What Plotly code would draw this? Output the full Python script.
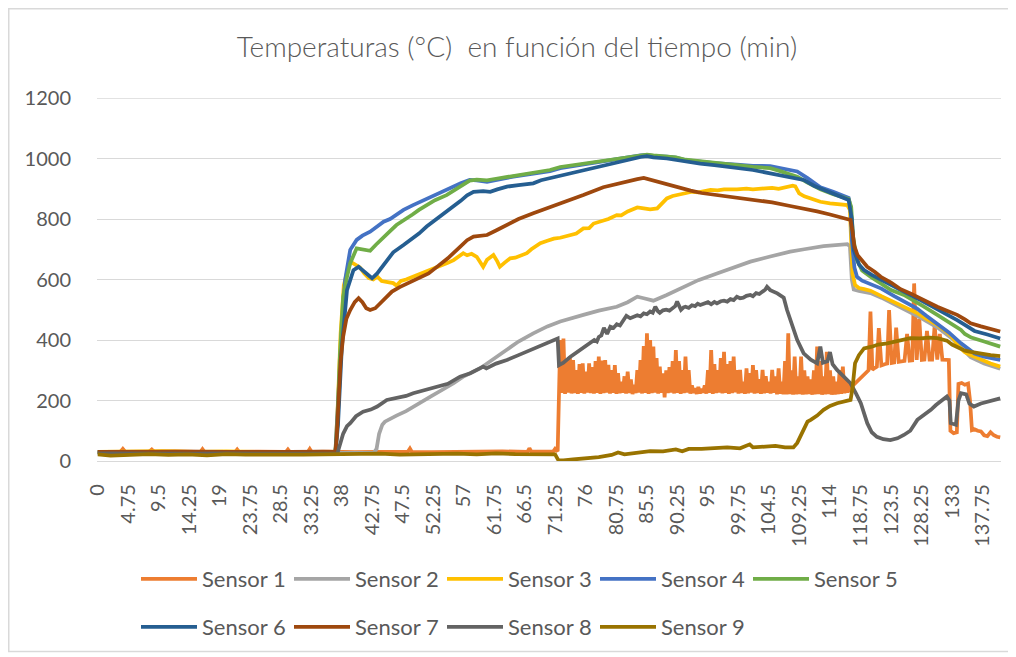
import plotly.graph_objects as go

# ---------------- data (time in minutes, temperature in °C) ----------------
tick_labels = ["0", "4.75", "9.5", "14.25", "19", "23.75", "28.5", "33.25", "38",
               "42.75", "47.5", "52.25", "57", "61.75", "66.5", "71.25", "76",
               "80.75", "85.5", "90.25", "95", "99.75", "104.5", "109.25", "114",
               "118.75", "123.5", "128.25", "133", "137.75"]

# Sensor 1: baseline part
s1_pre_t = [0, 3.5, 3.9, 4.3, 8.0, 8.4, 8.8, 12, 16.0, 16.3, 16.6, 19, 21.4, 21.7, 22.0,
            25, 29.3, 29.6, 29.9, 32.7, 33.0, 33.3, 36, 40, 44, 48.3, 48.6, 48.9, 52, 56,
            60, 63, 66.9, 67.2, 67.5, 69, 70.9, 71.2, 71.6]
s1_pre_v = [30, 30, 40, 30, 31, 38, 30, 32, 30, 39, 30, 31, 30, 38, 30,
            31, 30, 38, 30, 30, 40, 30, 31, 29, 30, 31, 41, 30, 29, 31,
            30, 32, 30, 42, 31, 30, 31, 40, 32]
# Sensor 1: oscillating part, peaks (every 0.5 min from 72.0) and troughs (from 72.25)
s1_peaks = [400, 405, 330, 345, 334, 300, 320, 323, 295, 323,
            310, 330, 345, 332, 334, 318, 300, 317, 290, 262,
            280, 295, 270, 252, 300, 334, 380, 422, 400, 378,
            340, 312, 290, 300, 310, 330, 367, 330, 300, 345,
            300, 250, 240, 245, 238, 250, 300, 367, 320, 300,
            340, 361, 320, 330, 345, 300, 301, 262, 306, 290,
            317, 300, 270, 301, 280, 262, 301, 280, 306, 262,
            330, 422, 300, 345, 280, 345, 300, 280, 270, 300,
            378, 330, 280, 361, 300, 280, 262, 300, 312, 270,
            258]
s1_troughs = [225, 222, 226, 223, 224, 222, 225, 223, 226, 224,
              223, 225, 222, 224, 226, 223, 225, 222, 224, 226,
              223, 225, 221, 224, 226, 223, 225, 222, 224, 226,
              223, 225, 210, 224, 226, 223, 225, 222, 224, 226,
              223, 225, 222, 224, 226, 223, 225, 222, 224, 226,
              223, 225, 222, 224, 227, 223, 225, 222, 224, 226,
              223, 225, 222, 224, 226, 223, 225, 220, 222, 221,
              220, 221, 219, 220, 221, 219, 220, 221, 219, 220,
              221, 219, 220, 221, 219, 220, 221, 222, 224, 226,
              230]
s1_post_t = [117.5, 118.0, 118.5, 119.0, 119.5, 120.0, 120.3, 120.6, 121.0, 121.3,
             121.6, 122.0, 122.5, 122.9, 123.2, 123.6, 124.0, 124.3, 124.7, 125.2,
             125.6, 126.0, 126.4, 126.8, 127.1, 127.5, 127.9, 128.3, 128.7, 129.1,
             129.5, 129.9, 130.3, 130.7, 131.1, 131.5, 132.0, 132.5, 132.75, 133.25,
             133.75, 134.0, 134.5, 135.0, 135.5, 135.8, 136.1, 136.5, 137.0, 137.5,
             138.0, 138.5, 139.0, 139.5, 140.0, 140.5]
s1_post_v = [248, 258, 268, 280, 290, 300, 494, 302, 308, 312,
             439, 316, 320, 322, 499, 324, 326, 441, 328, 330,
             331, 420, 332, 333, 587, 334, 470, 334, 335, 430,
             335, 335, 450, 335, 420, 335, 336, 334, 100, 92,
             95, 255, 258, 252, 256, 200, 102, 105, 100, 98,
             85, 82, 95, 85, 80, 78]

s2_t = [0, 5, 10, 15, 20, 25, 30, 35, 40, 43.0, 43.4, 43.8, 44.3, 44.7, 45.5, 46.5, 48,
        50.2, 52, 55.4, 57, 59.5, 61.5, 63.7, 65.5, 67.8, 70, 72, 74, 75.6, 78, 80.8,
        82.5, 84, 85, 86.5, 88.5, 91.2, 93.5, 96.4, 99, 101.6, 104.7, 107.8, 110, 113,
        116.7, 117.1, 117.4, 117.7, 118.5, 120.3, 122, 125.5, 128, 130.7, 133, 135.9,
        138, 140.5]
s2_v = [28, 27, 29, 28, 27, 28, 27, 28, 27, 28, 40, 90, 120, 130, 140, 150, 165,
        191, 215, 257, 280, 306, 335, 367, 395, 422, 445, 461, 475, 483, 497, 510,
        525, 543, 538, 530, 548, 576, 598, 620, 640, 659, 676, 692, 700, 710,
        717, 710, 600, 567, 562, 555, 540, 503, 475, 442, 405, 343,
        322, 305]

s3_t = [0, 5, 10, 15, 20, 25, 30, 35, 37.0, 37.4, 37.8, 38.3, 39.0, 39.4, 40.0, 40.8,
        41.5, 42.2, 42.9, 43.5, 44.2, 45, 46, 46.5, 47.2, 48, 49.1, 50, 51, 51.7, 52.5,
        53.5, 54.5, 55.4, 56, 56.9, 57.5, 58.2, 59.0, 59.5, 60.0, 60.6, 61.6, 62.2,
        62.6, 63.3, 64.2, 65, 66, 66.8, 67.5, 68.9, 70, 71, 72, 73.6, 74.5, 75.6, 76.5,
        77.2, 78.2, 79.5, 80.8, 81.5, 82.5, 84.0, 85, 86, 87.1, 87.8, 88.6, 89.5, 90.2,
        91.2, 92.5, 93.5, 94.5, 95.4, 96.5, 97.5, 99.5, 101, 102, 103.7, 105, 106, 107,
        108.2, 108.6, 109.2, 110, 111, 112.5, 114, 115.5, 116.7, 117.1, 117.3, 117.5,
        117.9, 118.5, 119.3, 120.3, 122, 123.5, 125.5, 127.5, 129, 130.7, 132, 133, 134,
        135, 135.9, 137.5, 139, 140.5]
s3_v = [30, 31, 33, 30, 32, 30, 31, 30, 30, 200, 420, 580, 640, 658, 650, 640,
        620, 605, 600, 610, 595, 592, 588, 580, 595, 600, 609, 618, 625, 631, 640,
        648, 655, 664, 672, 687, 680, 685, 675, 660, 642, 665, 681, 660,
        642, 655, 670, 672, 680, 687, 700, 720, 728, 735, 738, 747, 752, 769, 770,
        785, 791, 800, 813, 812, 825, 838, 835, 832, 835, 850, 868, 876, 880,
        885, 890, 888, 893, 896, 895, 898, 898, 900, 898, 901, 903, 900, 905,
        910, 908, 885, 875, 868, 857, 852, 848, 846, 830, 720, 620,
        582, 572, 568, 563, 545, 530, 510, 490, 470, 450, 430, 410, 380,
        360, 350, 335, 322, 312]

s4_t = [0, 5, 10, 15, 20, 25, 30, 35, 37.0, 37.3, 37.7, 38.0, 38.5, 39.3, 40.3, 41.2,
        42.4, 43.5, 44.5, 45.5, 46.5, 47.6, 49, 50, 51.2, 52.5, 54.3, 55.5, 56.5, 57.9,
        59, 60.6, 62, 63.5, 64.7, 66.5, 68.4, 70.4, 72.0, 74, 76, 78, 80, 82, 84.5, 85.5,
        86.5, 88.6, 90, 91.5, 93.8, 96, 99.5, 102, 104.7, 106, 108.9, 110.5, 112.5,
        114.5, 116.9, 117.2, 117.4, 117.8, 118.2, 119, 120.3, 122, 124, 125.5, 127.5,
        129, 130.7, 132.5, 134.4, 135.5, 136.5, 138, 140.5]
s4_v = [30, 31, 30, 29, 31, 30, 30, 31, 30, 150, 350, 433, 598, 698, 731, 745,
        758, 775, 791, 800, 815, 830, 845, 855, 868, 880, 896, 908, 918, 929,
        928, 923, 930, 935, 940, 945, 951, 958, 968, 975, 982, 988, 995, 1003, 1010, 1012,
        1008, 1006, 1003, 995, 989, 985, 980, 976, 975, 970, 957, 935, 905,
        890, 870, 840, 731, 640, 609, 596, 585, 570, 545, 527, 505,
        480, 455, 425, 389, 370, 355, 345, 334]

s5_t = [0, 5, 10, 15, 20, 25, 30, 35, 37.0, 37.3, 37.7, 38.2, 38.8, 39.3, 40.3, 41.2,
        42.4, 43.3, 44.5, 45.5, 46.5, 47.6, 49, 50, 51.2, 52.5, 54.3, 55.5, 56.5, 57.9,
        59, 60.6, 62, 64.7, 66.5, 68.4, 70.4, 72, 74, 76, 78, 80, 82, 84.5, 85.5, 86.5,
        88.6, 90, 91.5, 93.8, 96, 99.5, 102, 104.7, 106, 108.9, 110.5, 112.5, 114.5,
        116.9, 117.3, 117.6, 118.2, 119, 120.3, 122, 123.5, 125.5, 127.5, 128.5, 130.7,
        132.5, 134.4, 135, 136, 138, 140.5]
s5_v = [29, 30, 29, 30, 29, 30, 29, 30, 29, 120, 350, 543, 609, 654, 703, 700,
        695, 715, 742, 760, 780, 797, 815, 830, 846, 862, 879, 895, 910, 927,
        930, 928, 933, 942, 948, 955, 962, 972, 978, 985, 992, 998, 1005, 1012, 1013, 1010,
        1008, 1004, 996, 990, 985, 978, 972, 968, 960, 940, 920, 898, 882,
        866, 840, 740, 664, 630, 609, 585, 565, 549, 525, 512, 483,
        458, 433, 420, 408, 395, 378]

s6_t = [0, 5, 10, 15, 20, 25, 30, 35, 37.0, 37.4, 37.7, 38.0, 38.8, 39.8, 40.6, 41.5,
        42.7, 43.5, 45.0, 46, 47.6, 49, 50, 51.2, 52.5, 54, 55.4, 56.5, 57.5, 58.5, 60,
        61.1, 62.2, 63.7, 65.5, 67.8, 69, 70.4, 72, 74, 76, 78, 80, 82, 84.5, 85.5, 86.5,
        88.6, 90, 91.5, 93.8, 96, 99.5, 102, 104.7, 106, 108, 109.9, 111.5, 113, 115,
        116.9, 117.4, 117.7, 118.5, 119.3, 120.5, 122.9, 125.5, 128.1, 130, 131.5, 133.8,
        135, 136.5, 138.5, 140.5]
s6_v = [28, 29, 28, 27, 28, 29, 28, 28, 28, 120, 250, 378, 565, 631, 642, 625,
        604, 620, 664, 690, 714, 735, 752, 775, 795, 820, 841, 860, 878, 890, 892,
        890, 898, 907, 912, 918, 928, 935, 945, 955, 965, 975, 985, 995, 1005, 1008, 1004,
        1000, 995, 990, 983, 978, 970, 962, 951, 945, 938, 929, 910, 896, 880,
        863, 800, 698, 650, 631, 615, 587, 560, 532, 510, 495, 466,
        450, 430, 418, 405]

s7_t = [0, 5, 10, 15, 20, 25, 30, 35, 37.0, 37.2, 37.5, 37.8, 38.2, 38.7, 39.3, 40.0,
        40.6, 41.2, 41.8, 42.4, 43.2, 44.2, 45.8, 47, 48.5, 50.2, 51.5, 53, 54.5, 56.4,
        57.5, 58.5, 60.6, 62, 63.7, 65.5, 67.8, 70.4, 72, 75.6, 78.7, 80.5, 82.4, 84, 85,
        86, 88.6, 90.5, 92.3, 94, 96.4, 99, 102.6, 105, 107.8, 109.9, 112, 114, 116,
        117.2, 117.5, 117.8, 118.3, 119, 119.8, 121, 121.9, 123.5, 125, 126.5, 128.5,
        130.7, 132.2, 133.8, 135, 135.9, 137.5, 139, 140.5]
s7_v = [30, 31, 30, 31, 30, 29, 30, 31, 30, 80, 213, 330, 411, 470, 499, 525,
        538, 525, 505, 499, 505, 525, 560, 575, 590, 604, 620, 645, 670, 708,
        730, 742, 747, 762, 780, 800, 819, 838, 850, 879, 905, 915, 925, 932, 936,
        930, 915, 903, 894, 886, 879, 873, 862, 855, 843, 835, 825, 815, 805,
        797, 760, 710, 680, 660, 642, 625, 609, 590, 568, 554, 532,
        510, 497, 483, 468, 455, 445, 436, 428]

s8_t = [0, 5, 10, 15, 20, 25, 30, 35, 37.3, 37.6, 38.2, 38.8, 39.3, 40.2, 41.3, 42.5,
        43.5, 45, 46.5, 48, 49.1, 50.5, 52.8, 54.5, 56.4, 58, 60, 60.5, 62, 63.7, 65.5,
        67.8, 69.5, 70.9, 71.6, 71.8, 72.5, 73.6, 75, 76.7, 77.3, 77.7, 78.0, 78.4, 78.8,
        79.3, 79.8, 80.3, 80.8, 81.3, 81.8, 82.3, 82.9, 83.4, 84.0, 84.5, 85.0, 85.5, 86.0,
        86.4, 86.8, 87.2, 87.5, 88.0, 88.5, 89.0, 89.5, 89.9, 90.2, 90.6, 90.8, 91.2, 91.5,
        92.0, 92.5, 93.0, 93.4, 93.8, 94.4, 95.0, 95.5, 96.0, 96.4, 97.0, 97.5, 98.0, 98.5,
        99.0, 99.5, 100.0, 100.5, 101.0, 101.6, 102.0, 102.5, 103.0, 103.5, 103.9, 104.2,
        104.7, 105.8, 106.8, 107.3, 107.8, 108.5, 108.9, 109.9, 111, 112, 112.5, 112.9,
        113.6, 114, 114.4, 115.1, 116.2, 117.2, 118, 118.8, 119.8, 120.5, 121.3, 122.3,
        123.4, 124.5, 125.5, 126.5, 127.6, 128.5, 129.7, 130.5, 131.2, 132.2, 132.6, 132.8,
        133.6, 134.0, 134.4, 135.2, 135.7, 136.4, 137.5, 138.5, 139.5, 140.5]
s8_v = [25, 24, 26, 24, 25, 24, 25, 24, 25, 50, 90, 115, 125, 148, 163, 170,
        180, 202, 208, 215, 224, 232, 246, 255, 279, 290, 312, 306, 322, 334, 350,
        372, 388, 400, 405, 317, 325, 345, 365, 389, 400, 395, 410, 415, 440,
        420, 444, 440, 452, 448, 462, 480, 472, 478, 482, 478, 488, 485, 494,
        490, 510, 495, 490, 498, 500, 497, 505, 512, 527, 505, 500, 508, 510,
        506, 515, 512, 520, 516, 522, 525, 518, 526, 521, 528, 530, 527, 535,
        532, 543, 538, 540, 546, 549, 545, 555, 552, 560, 566, 576,
        565, 554, 540, 500, 470, 420, 400, 356, 335, 323, 378, 325,
        330, 360, 320, 301, 280, 257, 225, 191, 125, 95, 80, 72,
        69, 75, 86, 100, 136, 150, 169, 185, 196, 213, 200, 125,
        120, 200, 224, 220, 190, 180, 190, 196, 200, 207]

s9_t = [0, 2, 5, 8, 11, 14, 17, 20, 23, 26, 29, 32, 35, 38, 41, 44, 47, 50, 53, 56,
        59, 62, 65, 68, 71.2, 71.7, 72.5, 74, 76, 78, 80, 81, 82, 84, 86, 88, 90, 91,
        92, 94, 96, 98, 100, 101.5, 102, 104, 105.5, 107, 108.3, 108.9, 109.9, 110.5,
        111, 112, 113, 114, 115.1, 116.2, 117.2, 117.5, 117.9, 118.5, 119.3, 120.5,
        121.5, 122.9, 124, 125, 126.5, 128, 129.5, 130.7, 131.5, 132.2, 133, 133.8, 135,
        135.9, 137.5, 139, 140.5]
s9_v = [22, 18, 20, 23, 20, 22, 19, 23, 21, 20, 22, 21, 22, 23, 21, 24, 21, 23, 22, 24,
        22, 25, 23, 24, 22, 3, 2, 5, 8, 13, 20, 28, 22, 27, 33, 32, 38, 32,
        40, 40, 42, 45, 42, 55, 45, 48, 50, 45, 45, 60, 102, 130,
        136, 150, 169, 182, 191, 196, 202, 240, 323, 350, 372, 378,
        385, 389, 395, 400, 406, 405, 408, 406, 400, 398, 385, 378, 365,
        361, 355, 350, 347]

names = ["Sensor 1", "Sensor 2", "Sensor 3", "Sensor 4", "Sensor 5",
         "Sensor 6", "Sensor 7", "Sensor 8", "Sensor 9"]
colors = ["#ED7D31", "#A5A5A5", "#FFC000", "#4472C4", "#70AD47",
          "#255E91", "#9E480E", "#636363", "#997300"]

# assemble sensor 1 (peaks/troughs alternate on the 0.25-min sampling grid)
s1_t = list(s1_pre_t)
s1_v = list(s1_pre_v)
for i, (p, q) in enumerate(zip(s1_peaks, s1_troughs)):
    s1_t += [72.0 + 0.5 * i, 72.25 + 0.5 * i]
    s1_v += [p, q]
s1_t += s1_post_t
s1_v += s1_post_v

series = [(s1_t, s1_v), (s2_t, s2_v), (s3_t, s3_v), (s4_t, s4_v), (s5_t, s5_v),
          (s6_t, s6_v), (s7_t, s7_v), (s8_t, s8_v), (s9_t, s9_v)]

FONT = "Lato"
TXT = "#595959"
GRID = "#D9D9D9"

fig = go.Figure()
for i, ((t, v), name, col) in enumerate(zip(series, names, colors)):
    fig.add_trace(go.Scatter(
        x=t, y=v, mode="lines", name=name,
        line=dict(color=col, width=3.75),
        legend="legend" if i < 5 else "legend2",
        hoverinfo="x+y+name",
    ))

# the page body adds an 8 px offset, so the figure is 8 px smaller and
# every target position below is expressed in figure pixels (page px - 8)
OFF = 8
W, H = 1016 - OFF, 657 - OFF
PL, PR, PT, PB = 97 - OFF, 1001 - OFF, 98 - OFF, 461 - OFF
pw, ph = PR - PL, PB - PT

def px(x):
    return (x - OFF - PL) / pw

def py(y):
    return (PB - (y - OFF)) / ph

legend_common = dict(
    orientation="h", xanchor="left", yanchor="middle",
    entrywidth=82, entrywidthmode="pixels", itemwidth=56,
    font=dict(family=FONT, size=22, color=TXT),
    bgcolor="rgba(0,0,0,0)", traceorder="normal", tracegroupgap=0,
)

fig.update_layout(
    width=W, height=H,
    margin=dict(l=PL, r=W - PR, t=PT, b=H - PB, pad=0, autoexpand=False),
    paper_bgcolor="white", plot_bgcolor="white",
    font=dict(family=FONT, color=TXT),
    title=dict(
        text="Temperaturas (°C)\u00a0 en función del tiempo (min)",
        x=(517 - OFF) / W, xref="container", xanchor="center",
        y=1 - (47 - OFF) / H, yref="container", yanchor="middle",
        font=dict(family=FONT, size=28, color=TXT, weight=300),
    ),
    legend=dict(x=px(136), y=py(579), **legend_common),
    legend2=dict(x=px(136), y=py(627), **legend_common),
    xaxis=dict(
        range=[-0.125, 140.625],
        tickmode="array",
        tickvals=[float(s) for s in tick_labels],
        ticktext=tick_labels,
        tickangle=-90,
        ticks="outside", ticklen=14, tickcolor="rgba(0,0,0,0)",
        tickfont=dict(family=FONT, size=20, color=TXT),
        showgrid=False, zeroline=False,
        showline=True, linecolor=GRID, linewidth=1.3,
    ),
    yaxis=dict(
        range=[0, 1200], dtick=200, tick0=0,
        ticks="outside", ticklen=21, tickcolor="rgba(0,0,0,0)",
        tickfont=dict(family=FONT, size=20, color=TXT),
        showgrid=True, gridcolor=GRID, gridwidth=1.3,
        zeroline=False, showline=False,
    ),
    shapes=[
        dict(type="rect", xref="paper", yref="paper",
             x0=px(8.75), x1=px(1011.5), y0=py(651.5), y1=py(8.75),
             line=dict(color=GRID, width=1.5), fillcolor="rgba(0,0,0,0)", layer="below"),
        dict(type="line", xref="paper", yref="y", x0=0, x1=1, y0=1200, y1=1200,
             line=dict(color=GRID, width=1.3), layer="below"),
    ],
)

fig.write_html("out.html")
